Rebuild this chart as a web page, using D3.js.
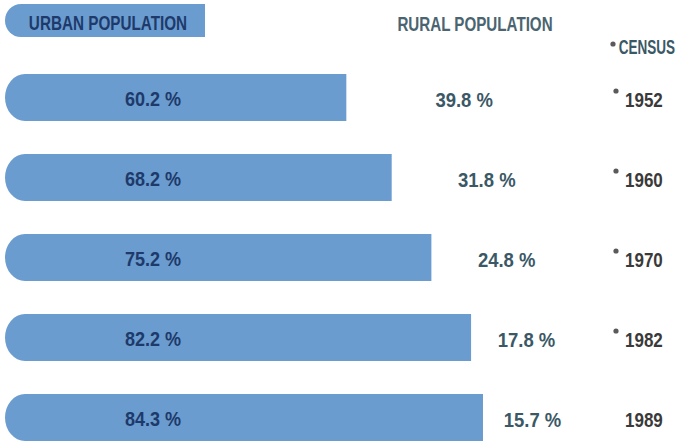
<!DOCTYPE html>
<html>
<head>
<meta charset="utf-8">
<script src="https://cdn.jsdelivr.net/npm/d3@7"></script>
<style>
  html, body { margin: 0; padding: 0; background: #ffffff; }
  svg { display: block; }
  text { font-family: "Liberation Sans", Arial, sans-serif; font-weight: bold; }
</style>
</head>
<body>
<svg id="chart" width="694" height="441"></svg>
<script>
// ---- data ----
const censusYears = ["1952", "1960", "1970", "1982", "1989"];
const urbanShare = [60.2, 68.2, 75.2, 82.2, 84.3];
const ruralShare = [39.8, 31.8, 24.8, 17.8, 15.7];
const markedYears = ["1952", "1960", "1970", "1982"];
const headerUrban = "URBAN POPULATION";
const headerRural = "RURAL POPULATION";
const headerCensus = "CENSUS";

// ---- layout ----
const svg = d3.select("#chart");
const barColor = "#6a9cd0";
const urbanText = "#1e3a6a";
const ruralText = "#3b5866";
const yearText = "#3a3a3a";

const x = d3.scaleLinear().domain([0, 100]).range([5, 572]);
const y = d3.scaleBand().domain(censusYears).range([74, 441]).paddingInner(0.4125).paddingOuter(0);

function leftRoundedBar(x0, x1, y0, h, rx) {
  const ry = h / 2;
  const p = d3.path();
  p.moveTo(x0 + rx, y0);
  p.lineTo(x1, y0);
  p.lineTo(x1, y0 + h);
  p.lineTo(x0 + rx, y0 + h);
  return p.toString() + ` A ${rx} ${ry} 0 0 1 ${x0 + rx} ${y0} Z`;
}

// horizontally condense text around its anchor to mimic a condensed typeface
function condense(sel, f) {
  sel.each(function () {
    const ax = +this.getAttribute("x");
    this.setAttribute("transform", `translate(${ax},0) scale(${f},1) translate(${-ax},0)`);
  });
}

const rows = censusYears.map((yr, i) => ({ year: yr, urban: urbanShare[i], rural: ruralShare[i] }));

// header pill
svg.append("path")
  .attr("d", leftRoundedBar(5, 205, 4, 33, 16))
  .attr("fill", barColor);
svg.append("text")
  .attr("x", 108).attr("y", 30.5)
  .attr("text-anchor", "middle")
  .attr("font-size", 20.5)
  .attr("fill", urbanText)
  .text(headerUrban)
  .call(condense, 0.745);
svg.append("text")
  .attr("x", 475).attr("y", 31)
  .attr("text-anchor", "middle")
  .attr("font-size", 20.5)
  .attr("fill", "#4a6470")
  .text(headerRural)
  .call(condense, 0.74);
svg.append("circle").attr("cx", 613).attr("cy", 44).attr("r", 2.6).attr("fill", "#5a5a5a");
svg.append("text")
  .attr("x", 675).attr("y", 54)
  .attr("text-anchor", "end")
  .attr("font-size", 20.5)
  .attr("fill", ruralText)
  .text(headerCensus)
  .call(condense, 0.66);

const g = svg.append("g").selectAll("g").data(rows).join("g");

g.append("path")
  .attr("d", d => leftRoundedBar(x(0), x(d.urban), y(d.year), y.bandwidth(), 20))
  .attr("fill", barColor);

g.append("text")
  .attr("x", 153)
  .attr("y", d => y(d.year) + y.bandwidth() / 2 + 9)
  .attr("text-anchor", "middle")
  .attr("font-size", 21)
  .attr("fill", urbanText)
  .text(d => d3.format(".1f")(d.urban) + " %")
  .call(condense, 0.86);

g.append("text")
  .attr("x", d => (x(d.urban) + x(100)) / 2 + 5)
  .attr("y", d => y(d.year) + y.bandwidth() / 2 + 9.5)
  .attr("text-anchor", "middle")
  .attr("font-size", 21)
  .attr("fill", ruralText)
  .text(d => d3.format(".1f")(d.rural) + " %")
  .call(condense, 0.88);

g.append("text")
  .attr("x", 625)
  .attr("y", d => y(d.year) + y.bandwidth() / 2 + 9.5)
  .attr("font-size", 21)
  .attr("fill", yearText)
  .text(d => d.year)
  .call(condense, 0.81);

g.filter(d => markedYears.includes(d.year))
  .append("circle")
  .attr("cx", 616)
  .attr("cy", d => y(d.year) + y.bandwidth() / 2 - 6.5)
  .attr("r", 2.6)
  .attr("fill", "#5a5a5a");
</script>
</body>
</html>
